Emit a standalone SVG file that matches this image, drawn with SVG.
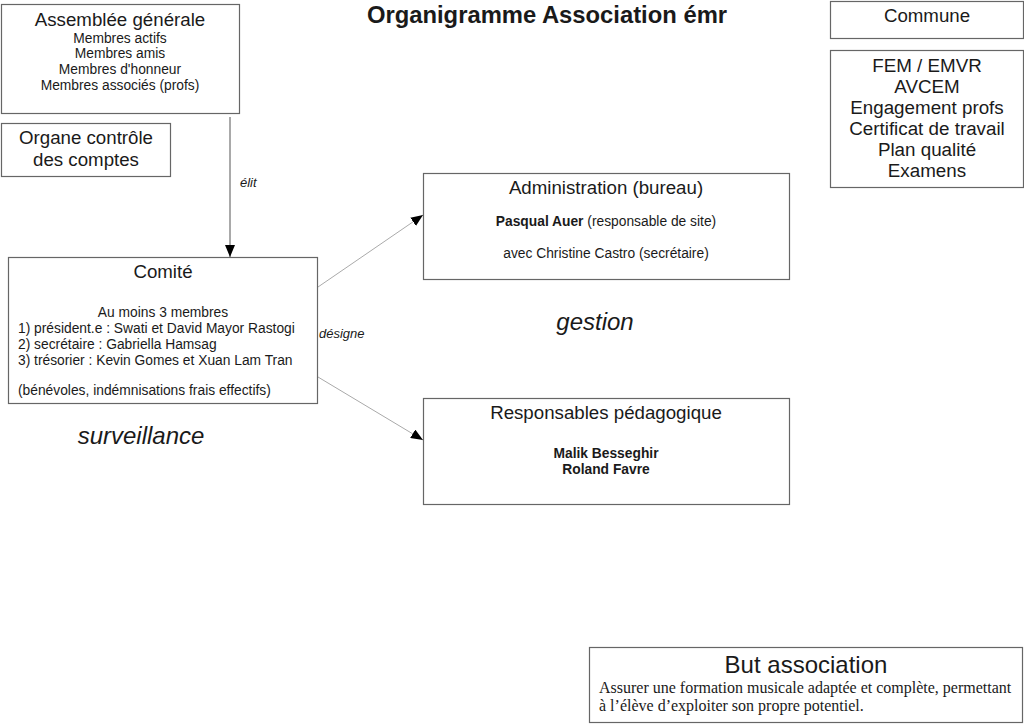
<svg xmlns="http://www.w3.org/2000/svg" width="1024" height="724" viewBox="0 0 1024 724">
<defs>
<style>
text{font-family:"Liberation Sans",Arial,sans-serif;fill:#1a1a1a}
.box{fill:#fff;stroke:#666;stroke-width:1.2}
.t17{font-size:18.7px;text-anchor:middle}
.t18{font-size:18.8px;text-anchor:middle}
.s13{font-size:13.8px}
.c{text-anchor:middle}
.b{font-weight:bold}
.it{font-style:italic}
.big{font-size:24px}
.conn{fill:none;stroke:#aaa;stroke-width:1}
.serif{font-family:"Liberation Serif","Times New Roman",serif;font-size:16px}
</style>
<marker id="ah" markerWidth="12" markerHeight="10" refX="12" refY="5" orient="auto" markerUnits="userSpaceOnUse">
<path d="M0,0 L12,5 L0,10 z" fill="#000"/>
</marker>
</defs>
<rect width="1024" height="724" fill="#fff"/>
<text x="547" y="23" class="b" style="font-size:23.8px;text-anchor:middle">Organigramme Association émr</text>

<g id="connectors">
<line x1="230" y1="117" x2="230" y2="257" class="conn" style="stroke:#555" marker-end="url(#ah)"/>
<line x1="318" y1="287" x2="423" y2="215" class="conn" marker-end="url(#ah)"/>
<line x1="318" y1="377" x2="423" y2="440" class="conn" marker-end="url(#ah)"/>
<text x="240" y="187" class="it" style="font-size:13px">élit</text>
<text x="319" y="338" class="it" style="font-size:13px">désigne</text>
</g>

<g id="assemblee">
<rect x="1.5" y="4.5" width="238" height="109" class="box"/>
<text x="120" y="26" class="t17">Assemblée générale</text>
<text x="120" y="43" class="s13 c">Membres actifs</text>
<text x="120" y="58" class="s13 c">Membres amis</text>
<text x="120" y="74" class="s13 c">Membres d'honneur</text>
<text x="120" y="90" class="s13 c">Membres associés (profs)</text>
</g>

<g id="organe">
<rect x="1.5" y="123.5" width="169" height="53" class="box"/>
<text x="86" y="144" class="t17">Organe contrôle</text>
<text x="86" y="166" class="t17">des comptes</text>
</g>

<g id="comite">
<rect x="8.5" y="257.5" width="309" height="146" class="box"/>
<text x="163" y="278" class="t17">Comité</text>
<text x="163" y="317" class="s13 c">Au moins 3 membres</text>
<text x="18" y="333" class="s13">1) président.e : Swati et David Mayor Rastogi</text>
<text x="18" y="349" class="s13">2) secrétaire : Gabriella Hamsag</text>
<text x="18" y="365" class="s13">3) trésorier : Kevin Gomes et Xuan Lam Tran</text>
<text x="18" y="395" class="s13">(bénévoles, indémnisations frais effectifs)</text>
</g>
<text x="141" y="444" class="it big" style="text-anchor:middle">surveillance</text>

<g id="administration">
<rect x="423.5" y="173.5" width="366" height="106" class="box"/>
<text x="606" y="194" class="t17">Administration (bureau)</text>
<text x="606" y="226" class="s13 c"><tspan class="b">Pasqual Auer</tspan> (responsable de site)</text>
<text x="606" y="258" class="s13 c">avec Christine Castro (secrétaire)</text>
</g>
<text x="595" y="330" class="it big" style="text-anchor:middle">gestion</text>

<g id="responsables">
<rect x="423.5" y="398.5" width="366" height="106" class="box"/>
<text x="606" y="419" class="t17">Responsables pédagogique</text>
<text x="606" y="458" class="s13 c b">Malik Besseghir</text>
<text x="606" y="474" class="s13 c b">Roland Favre</text>
</g>

<g id="commune">
<rect x="830.5" y="1.5" width="193" height="37" class="box"/>
<text x="927" y="22" class="t17">Commune</text>
</g>

<g id="fem">
<rect x="830.5" y="50.5" width="193" height="137" class="box"/>
<text x="927" y="72" class="t18">FEM / EMVR</text>
<text x="927" y="93" class="t18">AVCEM</text>
<text x="927" y="114" class="t18">Engagement profs</text>
<text x="927" y="135" class="t18">Certificat de travail</text>
<text x="927" y="156" class="t18">Plan qualité</text>
<text x="927" y="177" class="t18">Examens</text>
</g>

<g id="but">
<rect x="589.5" y="647.5" width="433" height="75" class="box"/>
<text x="806" y="673" class="big" style="text-anchor:middle">But association</text>
<text x="599" y="693" class="serif">Assurer une formation musicale adaptée et complète, permettant</text>
<text x="599" y="711" class="serif">à l’élève d’exploiter son propre potentiel.</text>
</g>
</svg>
